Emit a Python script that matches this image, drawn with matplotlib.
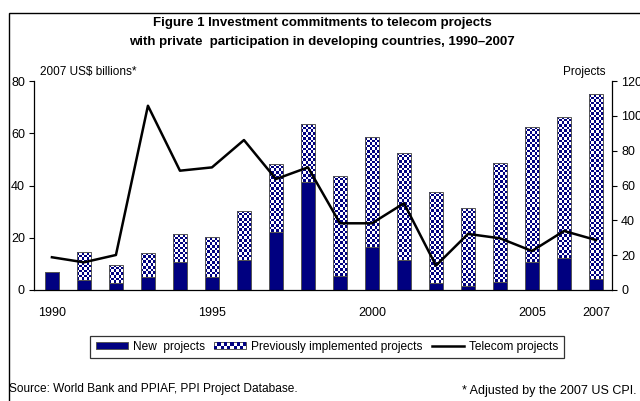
import numpy as np
import matplotlib
matplotlib.use("Agg")
import matplotlib.pyplot as plt
from matplotlib.patches import Rectangle, Patch
from matplotlib.lines import Line2D
from matplotlib.legend_handler import HandlerPatch

plt.rcParams['font.family'] = ['Liberation Sans', 'DejaVu Sans']

years = list(range(1990, 2008))
new_projects = [7.0, 3.8, 2.5, 4.8, 10.6, 5.1, 11.5, 22.1, 41.5,
                5.5, 16.6, 11.5, 2.5, 1.7, 2.9, 10.8, 12.1, 4.2]
total_invest = [7.0, 14.4, 9.6, 14.0, 21.3, 20.2, 30.4, 48.2, 63.4,
                43.8, 58.4, 52.6, 37.6, 31.5, 48.7, 62.5, 66.3, 74.9]
prev_projects = [t - n for t, n in zip(total_invest, new_projects)]
telecom_projects = [18.8, 15.9, 20.1, 105.8, 68.5, 70.4, 86.1, 63.7, 70.4,
                    38.3, 38.3, 49.8, 14.0, 32.2, 29.7, 22.4, 33.9, 28.7]
xtick_years = [1990, 1995, 2000, 2005, 2007]
left_ticks = [0, 20, 40, 60, 80]
right_ticks = [0, 20, 40, 60, 80, 100, 120]

NAVY = '#000080'
EDGE = '#555555'

fig = plt.figure(figsize=(6.4, 4.01), dpi=100)
W, H = 640, 401
ax = fig.add_axes([34 / W, 1 - 290 / H, (612 - 34) / W, (290 - 81) / H])
ax2 = ax.twinx()

ax.set_xlim(1989.44, 2007.5)
ax.set_ylim(0, 80)
ax2.set_ylim(0, 120)

bw = 0.45
nb = ax.bar(years, new_projects, width=bw, color=NAVY, edgecolor=EDGE, linewidth=0.7, zorder=2)
pb = ax.bar(years, prev_projects, width=bw, bottom=new_projects, color='white',
            edgecolor=EDGE, linewidth=0.7, zorder=2)


def checker(nx, ny):
    ii, jj = np.indices((ny, nx))
    arr = np.ones((ny, nx, 3))
    mask = (ii + jj) % 2 == 0
    arr[mask] = (0, 0, 128 / 255)
    return arr


fig.canvas.draw()
for p in pb:
    if p.get_height() <= 0:
        continue
    x0, y0 = p.get_x(), p.get_y()
    x1, y1 = x0 + p.get_width(), y0 + p.get_height()
    (px0, py0), (px1, py1) = ax.transData.transform([(x0, y0), (x1, y1)])
    nx = max(1, int(round((px1 - px0) / 2.6)))
    ny = max(1, int(round((py1 - py0) / 2.6)))
    im = ax.imshow(checker(nx, ny), extent=(x0, x1, y0, y1), aspect='auto',
                   interpolation='nearest', zorder=2.1)
    im.set_clip_path(p)
    ax.add_patch(Rectangle((x0, y0), x1 - x0, y1 - y0, facecolor='none',
                           edgecolor=EDGE, linewidth=0.7, zorder=2.2))

ax.set_xlim(1989.44, 2007.5)
ax.set_ylim(0, 80)

ax2.plot(years, telecom_projects, color='black', linewidth=1.8, zorder=3)

for a in (ax, ax2):
    a.spines['top'].set_visible(False)
    a.patch.set_visible(False)
ax.spines['right'].set_visible(False)
ax2.spines['left'].set_visible(False)
ax2.spines['bottom'].set_visible(False)
for s in ('left', 'bottom'):
    ax.spines[s].set_linewidth(0.9)
ax2.spines['right'].set_linewidth(0.9)

ax.set_xticks(xtick_years)
ax.set_xticklabels([str(y) for y in xtick_years])
ax.tick_params(axis='x', length=0, pad=12, labelsize=9)
ax.set_yticks(left_ticks)
ax.tick_params(axis='y', length=3.5, width=0.8, pad=3, labelsize=9)
ax2.set_yticks(right_ticks)
ax2.tick_params(axis='y', length=3.5, width=0.8, pad=3, labelsize=9)

fig.text(40 / W, 1 - 72 / H, '2007 US$ billions*', fontsize=8.5, ha='left', va='center')
fig.text(606 / W, 1 - 72 / H, 'Projects', fontsize=8.5, ha='right', va='center')

fig.text(322 / W, 1 - 23 / H, 'Figure 1 Investment commitments to telecom projects',
         fontsize=9.5, fontweight='bold', ha='center', va='center')
fig.text(322 / W, 1 - 42 / H, 'with private  participation in developing countries, 1990\u20132007',
         fontsize=9.5, fontweight='bold', ha='center', va='center')

fig.text(9 / W, 1 - 389 / H, 'Source: World Bank and PPIAF, PPI Project Database.',
         fontsize=8.6, ha='left', va='center')
fig.text(636 / W, 1 - 391 / H, '* Adjusted by the 2007 US CPI.',
         fontsize=9, ha='right', va='center')

# figure frame
fig.patches.append(Rectangle((9 / W, -0.1), 1.1, 1 - 13 / H + 0.1, transform=fig.transFigure,
                             fill=False, edgecolor='black', linewidth=1.0))


class CheckerHandler(HandlerPatch):
    def create_artists(self, legend, orig_handle, xdescent, ydescent, width, height,
                       fontsize, trans):
        arts = []
        nx, ny = 10, 2
        cw, ch = width / nx, height / ny
        bg = Rectangle((-xdescent, -ydescent), width, height, facecolor='white',
                       edgecolor=EDGE, linewidth=0.7, transform=trans)
        arts.append(bg)
        for i in range(nx):
            for j in range(ny):
                if (i + j) % 2 == 0:
                    arts.append(Rectangle((-xdescent + i * cw, -ydescent + j * ch), cw, ch,
                                          facecolor=NAVY, edgecolor='none', transform=trans))
        return arts


h_new = Patch(facecolor=NAVY, edgecolor=EDGE, linewidth=0.7)
h_prev = Patch(facecolor='white', edgecolor=EDGE)
h_line = Line2D([], [], color='black', linewidth=1.8)
leg = fig.legend([h_new, h_prev, h_line],
                 ['New  projects', 'Previously implemented projects', 'Telecom projects'],
                 loc='center', bbox_to_anchor=(327 / W, 1 - 347 / H), ncol=3,
                 frameon=True, fancybox=False, edgecolor='black', fontsize=8.6,
                 handlelength=2.7, handleheight=0.5, handletextpad=0.4, columnspacing=0.8,
                 borderpad=0.45, handler_map={h_prev: CheckerHandler()})
leg.get_frame().set_linewidth(0.9)

fig.savefig('out.png', dpi=100)
